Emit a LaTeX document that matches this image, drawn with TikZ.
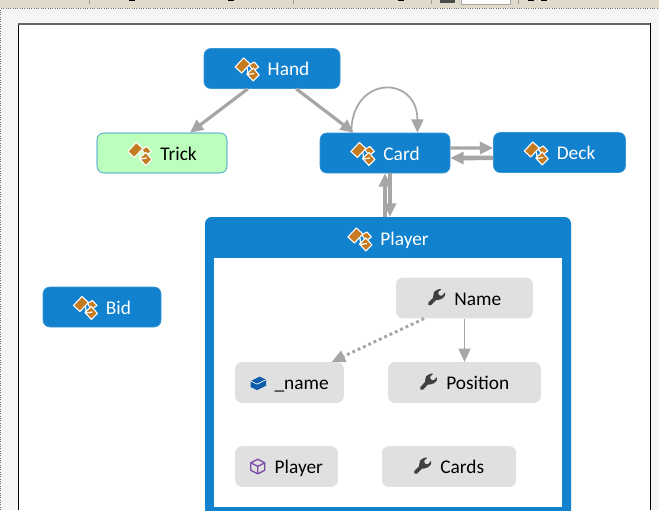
\documentclass[tikz,border=0pt]{standalone}
\usepackage{fontspec}
\setmainfont{Carlito}
\usepackage{tikz}
\usetikzlibrary{arrows.meta}
\usepackage{xcolor}

\definecolor{nodeblue}{HTML}{1382CE}
\definecolor{nodegreen}{HTML}{BCFFBC}
\definecolor{membergray}{HTML}{E0E0E0}
\definecolor{linkgray}{HTML}{A6A6A6}
\definecolor{barsand}{HTML}{E0DACA}
\definecolor{iconorange}{HTML}{C57B20}
\definecolor{iconwrench}{HTML}{404040}
\definecolor{iconfield}{HTML}{0F5CA8}
\definecolor{iconctor}{HTML}{7B4BA8}

\tikzset{iconpic/.style={x=0.75pt, y=-0.75pt, sharp corners, line join=round}}

% icons, sized in reference pixels
\newcommand{\classicon}{\smash{\tikz[iconpic, baseline=-13.5pt]{
    \draw[white, fill=iconorange, line width=0.8pt] (14,7) -- (19,4) -- (23.5,9) -- (18,13) -- cycle;
    \draw[white, fill=iconorange, line width=0.8pt] (11.5,16) -- (18,10) -- (24,17) -- (18,23) -- cycle;
    \draw[white, fill=iconorange, line width=0.8pt] (0,9) -- (8.5,0) -- (15,6) -- (6.5,15) -- cycle;
    \draw[white, line width=0.9pt] (12,10) -- (13,16.5) -- (19,15.5);
}}\hspace{6pt}}
\newcommand{\wrenchicon}{\smash{\tikz[iconpic, baseline=-12.5pt]{
    \draw[iconwrench, line width=2.8pt, line cap=round] (2.2,15) -- (8.5,8.5);
    \fill[iconwrench, rounded corners=0.4pt] (5.5,8.5) -- (6.5,3) -- (10.5,0.5) -- (14,0.3) -- (10.5,3.5) -- (11.5,6.5) -- (14.5,7) -- (17.5,3.5) -- (17.5,7) -- (14.5,10) -- (9.5,11.5) -- cycle;
}}\hspace{7pt}}
\newcommand{\fieldicon}{\smash{\tikz[iconpic, baseline=-10pt]{
    \fill[iconfield] (0,4.5) -- (9,0) -- (15.5,3) -- (15.5,9) -- (6.5,13.5) -- (0,10.5) -- cycle;
    \draw[white, line width=0.5pt] (0,4.5) -- (6.5,7.5) -- (15.5,3);
}}\hspace{6pt}}
\newcommand{\ctoricon}{\smash{\tikz[iconpic, baseline=-11pt]{
    \draw[iconctor, line width=1pt] (7,0) -- (14,3.5) -- (14,11) -- (7,14.5) -- (0,11) -- (0,3.5) -- cycle;
    \draw[iconctor, line width=1pt] (0,3.5) -- (7,7) -- (14,3.5) (7,7) -- (7,14.5);
}}\hspace{7pt}}

\begin{document}
\begin{tikzpicture}[
    x=0.75pt, y=-0.75pt,
    labeltext/.style={font=\fontsize{14.5}{16}\selectfont, text height=13pt, text depth=1.8pt, inner sep=0pt},
    classbox/.style={labeltext, rounded corners=5pt, draw=nodeblue!85!white, fill=nodeblue, text=white, minimum height=30pt},
    memberbox/.style={labeltext, rounded corners=5pt, fill=membergray, text=black, minimum height=30.5pt},
    heavylink/.style={-{Triangle[length=10pt,width=9pt]}, draw=linkgray, line width=2.4pt},
    lightlink/.style={-{Triangle[length=10pt,width=9pt]}, draw=linkgray, line width=1.3pt},
    dotlink/.style={-{Triangle[length=10pt,width=9pt]}, draw=linkgray, line width=2.2pt, dash pattern=on 2.2pt off 2.2pt}
]
\clip (0,0) rectangle (659,510);

% ----- Window behind the canvas -----
\fill[black!4] (0,0) rectangle (659,510);
\fill[barsand] (0,0) rectangle (659,8);
\draw[black!35, fill=white, line width=0.5pt] (461,-2) rectangle (510,4);
\draw[black!55, densely dotted, line width=0.75pt] (0.5,510) -- (0.5,8.7) -- (659,8.7);
\foreach \x in {89,293,431,518}{
    \draw[black!40, line width=0.5pt] (\x,0) -- (\x,4);
}
\foreach \x in {129,228,398,528,541}{
    \fill[black] (\x,0) rectangle ++(6,1.5);
}
\fill[black!70] (440,0) rectangle (455,3);
\fill[white] (18,24) rectangle (650,510);
\draw[black, line width=0.75pt] (18.5,510) -- (18.5,24) -- (650,24) -- (650,510);
\draw[black!60, line width=1pt] (18,24) -- (650,24);

% ----- Type nodes -----
\node[classbox, minimum width=102pt] (Hand) at (272,68.5) {\classicon Hand};
\node[classbox, minimum width=97.5pt, draw=nodeblue, fill=nodegreen, text=black] (Trick) at (162,153) {\classicon Trick};
\node[classbox, minimum width=97.5pt] (Card) at (385,153) {\classicon Card};
\node[classbox, minimum width=99pt] (Deck) at (559.5,152.5) {\classicon Deck};
\node[classbox, minimum width=88.5pt] (Bid) at (102,307) {\classicon Bid};

% ----- Player group -----
\node[rounded corners=5pt, fill=nodeblue, minimum width=274.5pt, minimum height=240pt] (PlayerBox) at (388,377) {};
\node[labeltext, text=white] (PlayerTitle) at (388,238.5) {\classicon Player};
\node[fill=white, minimum width=261pt, minimum height=186.5pt, inner sep=0pt] (PlayerBody) at (388,382.5) {};

% ----- Members -----
\node[memberbox, minimum width=102.5pt] (Name) at (464.5,298) {\wrenchicon Name};
\node[memberbox, minimum width=81.5pt] (NameField) at (289.5,382.5) {\fieldicon \_name};
\node[memberbox, minimum width=114.5pt] (Position) at (464.5,382.5) {\wrenchicon Position};
\node[memberbox, minimum width=77pt] (PlayerCtor) at (286.5,466.5) {\ctoricon Player};
\node[memberbox, minimum width=100.5pt] (Cards) at (449,466.5) {\wrenchicon Cards};

% ----- Connections -----
\draw[heavylink] (Hand.-140) -- (Trick.36);
\draw[heavylink] (Hand.-40) -- (Card.147);
\draw[lightlink] (Card.149) .. controls +(0,-58) and +(0,-58) .. (Card.32);
\draw[heavylink] ([yshift=3.75pt]Card.east) -- ([yshift=3.4pt]Deck.west);
\draw[heavylink, line width=3.4pt] ([yshift=-4.1pt]Deck.west) -- ([yshift=-3.75pt]Card.east);
\draw[heavylink] ([xshift=-2.25pt]PlayerBox.north) -- (Card.south);
\draw[heavylink] ([xshift=3.75pt]Card.south) -- ([xshift=1.5pt]PlayerBox.north);
\draw[dotlink] (Name.-153) -- (NameField.26);
\draw[lightlink] (Name.south) -- (Position.north);

\end{tikzpicture}
\end{document}
